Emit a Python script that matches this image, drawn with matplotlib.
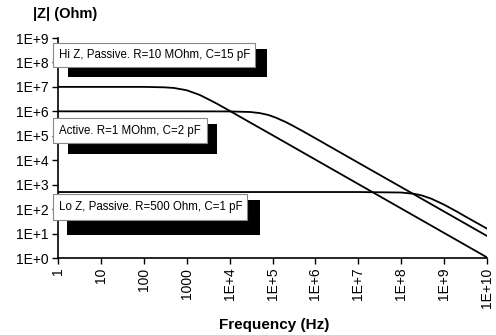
import matplotlib
matplotlib.use("Agg")
import matplotlib.pyplot as plt
import matplotlib.patches as patches

plt.rcParams['font.family'] = ['Liberation Sans', 'DejaVu Sans']

# values (Hz, Ohm)
freq_hi = [1, 10, 100, 300, 500, 1000, 2000, 3000, 5000, 1e4, 3e4, 1e5, 1e6, 1e7, 1e8, 1e9, 1e10]
z_hi = [1e7, 1e7, 1e7, 9.6e6, 9.05e6, 7.3e6, 4.7e6, 3.3e6, 2.08e6, 1.05e6, 3.5e5, 1.06e5, 1.06e4, 1060, 106, 10.6, 1.06]

freq_active = [1, 10, 100, 1000, 1e4, 3e4, 5e4, 8e4, 1.2e5, 2e5, 3e5, 5e5, 1e6, 1e7, 1e8, 1e9, 1e10]
z_active = [1e6, 1e6, 1e6, 1e6, 0.99e6, 0.94e6, 0.85e6, 0.71e6, 0.55e6, 0.37e6, 0.256e6, 0.157e6, 7.9e4, 7.9e3, 796, 79.6, 7.96]

freq_lo = [1, 10, 100, 1000, 1e4, 1e5, 1e6, 1e7, 1e8, 2e8, 3e8, 5e8, 1e9, 2e9, 3e9, 1e10]
z_lo = [500, 500, 500, 500, 500, 500, 500, 500, 477, 423, 364, 268, 152, 78.6, 52, 15.9]

xticks = [1, 10, 100, 1000, 1e4, 1e5, 1e6, 1e7, 1e8, 1e9, 1e10]
xticklabels = ['1', '10', '100', '1000', '1E+4', '1E+5', '1E+6', '1E+7', '1E+8', '1E+9', '1E+10']
yticks = [1, 10, 100, 1e3, 1e4, 1e5, 1e6, 1e7, 1e8, 1e9]
yticklabels = ['1E+0', '1E+1', '1E+2', '1E+3', '1E+4', '1E+5', '1E+6', '1E+7', '1E+8', '1E+9']

# label boxes in figure pixels: (text, box x0, y0, x1, y1, shadow x0, y0, x1, y1), y from top
labels = [
    ("Hi Z, Passive. R=10 MOhm, C=15 pF", (53, 43, 255, 67), (68, 49, 267, 77)),
    ("Active. R=1 MOhm, C=2 pF", (53, 118, 207, 143), (68, 124, 217, 154)),
    ("Lo Z, Passive. R=500 Ohm, C=1 pF", (53, 194, 247, 220), (67, 200, 260, 235)),
]

W, H = 496, 335
fig = plt.figure(figsize=(W / 100, H / 100), dpi=100)
ax = fig.add_axes([58 / W, 1 - 258 / H, (487 - 58) / W, (258 - 38) / H])

ax.plot(freq_hi, z_hi, color='k', lw=1.3)
ax.plot(freq_active, z_active, color='k', lw=1.3)
ax.plot(freq_lo, z_lo, color='k', lw=1.3)

ax.set_xscale('log')
ax.set_yscale('log')
ax.set_xlim(1, 1e10)
ax.set_ylim(1, 1e9)
ax.set_xticks(xticks)
ax.set_xticklabels(xticklabels, rotation=90, fontsize=10)
ax.set_yticks(yticks)
ax.set_yticklabels(yticklabels, fontsize=10)
ax.minorticks_off()
ax.tick_params(direction='out', length=4, width=1, pad=3)
for s in ['top', 'right']:
    ax.spines[s].set_visible(False)
for s in ['left', 'bottom']:
    ax.spines[s].set_linewidth(1.2)

# boxes with black drop shadow
for text, box, shadow in labels:
    sx0, sy0, sx1, sy1 = shadow
    fig.patches.append(patches.Rectangle((sx0 / W, 1 - sy1 / H), (sx1 - sx0) / W, (sy1 - sy0) / H,
                                         transform=fig.transFigure, facecolor='black', edgecolor='none', zorder=5))
    bx0, by0, bx1, by1 = box
    fig.patches.append(patches.Rectangle((bx0 / W, 1 - by1 / H), (bx1 - bx0) / W, (by1 - by0) / H,
                                         transform=fig.transFigure, facecolor='white', edgecolor='#888888',
                                         lw=0.8, zorder=6))
    fig.text((bx0 + 6) / W, 1 - (by0 + by1) / 2 / H, text, fontsize=8.3, va='center', ha='left', zorder=7)

fig.text(65 / W, 1 - 14 / H, '|Z| (Ohm)', fontsize=10.5, fontweight='bold', ha='center', va='center')
fig.text(274 / W, 1 - 325 / H, 'Frequency (Hz)', fontsize=11, fontweight='bold', ha='center', va='center')

fig.savefig('out.png', dpi=100)
